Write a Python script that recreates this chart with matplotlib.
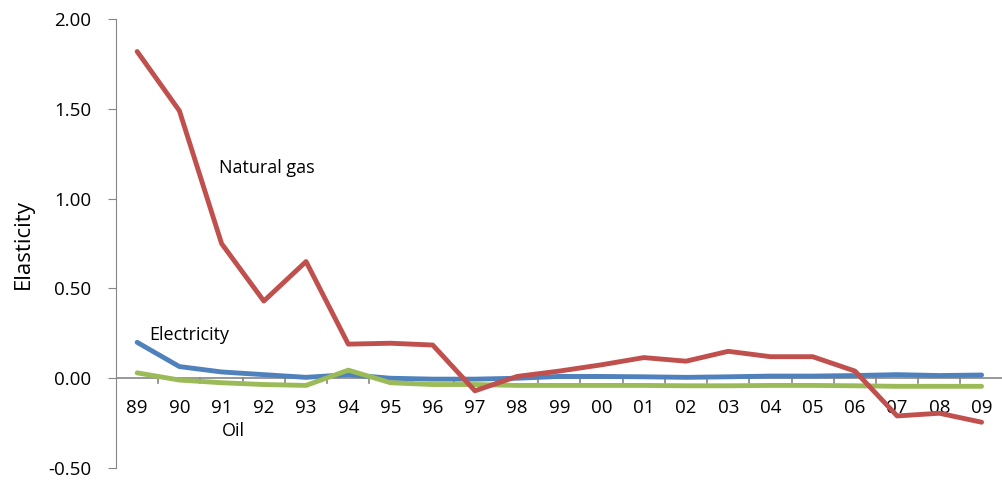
import numpy as np
from matplotlib import pyplot as plt

# Data
years = ['89', '90', '91', '92', '93', '94', '95', '96', '97', '98', '99',
         '00', '01', '02', '03', '04', '05', '06', '07', '08', '09']
natural_gas = [1.82, 1.49, 0.75, 0.43, 0.65, 0.19, 0.195, 0.185, -0.07, 0.01, 0.04,
               0.075, 0.115, 0.095, 0.15, 0.12, 0.12, 0.04, -0.21, -0.195, -0.245]
electricity = [0.20, 0.065, 0.035, 0.02, 0.005, 0.02, 0.0, -0.005, -0.005, 0.0, 0.01,
               0.01, 0.008, 0.005, 0.008, 0.012, 0.012, 0.015, 0.02, 0.015, 0.018]
oil = [0.03, -0.01, -0.025, -0.035, -0.04, 0.045, -0.025, -0.035, -0.035, -0.04, -0.04,
       -0.04, -0.04, -0.042, -0.042, -0.04, -0.04, -0.042, -0.045, -0.045, -0.045]

plt.rcParams['font.family'] = ['Open Sans', 'DejaVu Sans']

fig = plt.figure(figsize=(10.03, 4.8), dpi=100)
ax = fig.add_axes([0.1157, 0.025, 0.884, 0.935])

x = np.arange(len(years))
ax.plot(x, electricity, color='#4F81BD', lw=3.5, solid_capstyle='round', zorder=3)
ax.plot(x, oil, color='#9BBB59', lw=3.5, solid_capstyle='round', zorder=3)
ax.plot(x, natural_gas, color='#C0504D', lw=3.5, solid_capstyle='round', zorder=4)

ax.set_xlim(-0.5, len(years) - 0.5)
ax.set_ylim(-0.5, 2.0)
ax.set_yticks(np.arange(-0.5, 2.01, 0.5))
ax.set_yticklabels([f'{v:.2f}' for v in np.arange(-0.5, 2.01, 0.5)], fontsize=13.5)
ax.tick_params(axis='y', direction='out', length=6, color='#868686', pad=12)

# horizontal axis line at zero with category boundary ticks
ax.axhline(0, color='#868686', lw=1.2, zorder=1)
for b in np.arange(0.5, len(years) - 0.5, 1.0):
    ax.plot([b, b], [0, -0.025], color='#868686', lw=1.2, zorder=1)
ax.set_xticks([])
for i, lab in enumerate(years):
    ax.text(i, -0.165, lab, ha='center', va='center', fontsize=13.5)

for s in ['top', 'right', 'bottom']:
    ax.spines[s].set_visible(False)
ax.spines['left'].set_color('#868686')

ax.set_ylabel('Elasticity', fontsize=16, labelpad=10)

ax.text(1.93, 1.17, 'Natural gas', fontsize=13, va='center', ha='left')
ax.text(0.28, 0.24, 'Electricity', fontsize=13, va='center', ha='left')
ax.text(2.0, -0.295, 'Oil', fontsize=13, va='center', ha='left')

plt.savefig('out.png', dpi=100)
